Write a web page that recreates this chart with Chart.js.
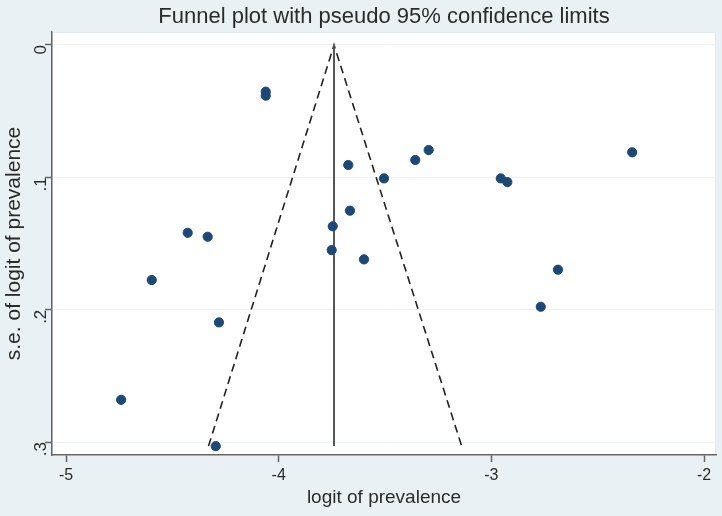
<!DOCTYPE html>
<html>
<head>
<meta charset="utf-8">
<script src="https://cdn.jsdelivr.net/npm/chart.js@4"></script>
<style>
html,body{margin:0;padding:0;background:#e9f1f4;}
#wrap{width:722px;height:516px;position:relative;}
</style>
</head>
<body>
<div id="wrap"><canvas id="c" width="722" height="516"></canvas></div>
<script>
// Study estimates: logit of prevalence and its standard error
const logitPrev = [-4.061, -4.061, -3.673, -3.505, -3.358, -3.295, -2.956, -2.925, -2.338,
  -3.665, -3.746, -3.751, -3.599, -2.687, -2.768, -4.428, -4.334, -4.597, -4.281, -4.741, -4.296];
const seLogit = [0.0353, 0.0383, 0.0907, 0.1008, 0.0869, 0.0794, 0.1008, 0.1036, 0.0811,
  0.1252, 0.137, 0.155, 0.162, 0.1698, 0.1978, 0.1419, 0.1449, 0.1776, 0.2096, 0.2681, 0.3031];
// Pseudo 95% confidence limits
const pooledEstimate = -3.74;
const funnelLowerX = -4.33;
const funnelUpperX = -3.14;
const funnelMaxSE = 0.303;
// Tick labels
const xTicks = [-5, -4, -3, -2];
const yTicks = [0, 0.1, 0.2, 0.3];

const points = logitPrev.map((x, i) => ({x: x, y: seLogit[i]}));
const funnel = [
  {x: funnelLowerX, y: funnelMaxSE},
  {x: pooledEstimate, y: 0},
  {x: funnelUpperX, y: funnelMaxSE}
];
const centre = [{x: pooledEstimate, y: 0}, {x: pooledEstimate, y: funnelMaxSE}];

const bgPlugin = {
  id: 'bg',
  beforeDraw(chart) {
    const {ctx, chartArea: a} = chart;
    ctx.save();
    ctx.fillStyle = '#e9f1f4';
    ctx.fillRect(0, 0, chart.width, chart.height);
    ctx.fillStyle = '#ffffff';
    ctx.fillRect(a.left, a.top, a.right - a.left, a.bottom - a.top);
    ctx.strokeStyle = '#e1eaee';
    ctx.lineWidth = 1;
    ctx.strokeRect(a.left + 0.5, a.top + 0.5, a.right - a.left - 1, a.bottom - a.top - 1);
    ctx.restore();
  }
};

const font = 'Liberation Sans, Arial, sans-serif';
new Chart(document.getElementById('c'), {
  type: 'scatter',
  data: {
    datasets: [
      {
        type: 'line', data: funnel, borderColor: '#222', borderWidth: 1.6,
        borderDash: [8, 5], pointRadius: 0, fill: false, tension: 0, order: 3
      },
      {
        type: 'line', data: centre, borderColor: '#555', borderWidth: 2,
        pointRadius: 0, fill: false, order: 2
      },
      {
        data: points, backgroundColor: '#1b4876', borderColor: '#1b4876',
        pointRadius: 4.6, pointHoverRadius: 4.6, order: 1
      }
    ]
  },
  plugins: [bgPlugin],
  options: {
    responsive: false,
    animation: false,
    layout: {padding: {left: 2, right: 6, top: 0, bottom: 7}},
    plugins: {
      legend: {display: false},
      tooltip: {enabled: false},
      title: {
        display: true,
        fullSize: false,
        text: 'Funnel plot with pseudo 95% confidence limits',
        color: '#2b2b2b',
        font: {family: font, size: 22, weight: 'normal', lineHeight: 1.2},
        padding: {top: 4, bottom: 1.6}
      }
    },
    scales: {
      x: {
        type: 'linear', min: -5.066, max: -1.944,
        afterBuildTicks(s) { s.ticks = xTicks.map(v => ({value: v})); },
        afterFit(s) { s.height = 54; },
        grid: {drawOnChartArea: false, drawTicks: true, tickLength: 7, tickColor: '#666', tickWidth: 1.5},
        border: {display: true, color: '#666', width: 1.5},
        ticks: {color: '#2b2b2b', font: {family: font, size: 16}, padding: 4,
          callback: v => String(v)},
        title: {display: true, text: 'logit of prevalence', color: '#2b2b2b',
          font: {family: font, size: 19}, padding: {top: 0, bottom: 0}}
      },
      y: {
        type: 'linear', reverse: true, min: -0.0098, max: 0.3098,
        afterBuildTicks(s) { s.ticks = yTicks.map(v => ({value: v})); },
        afterFit(s) { s.width = 50; },
        grid: {drawOnChartArea: true, color: '#eef3f5', lineWidth: 1, drawTicks: true,
          tickLength: 7, tickColor: '#666', tickWidth: 1.5},
        border: {display: true, color: '#666', width: 1.5},
        ticks: {color: '#2b2b2b', font: {family: font, size: 17}, padding: 4,
          minRotation: 90, maxRotation: 90,
          callback: v => v === 0 ? '0' : String(Math.round(v * 10) / 10).replace(/^0/, '')},
        title: {display: true, text: 's.e. of logit of prevalence', color: '#2b2b2b',
          font: {family: font, size: 21}, padding: {top: 0, bottom: 0}}
      }
    }
  }
});
</script>
</body>
</html>
